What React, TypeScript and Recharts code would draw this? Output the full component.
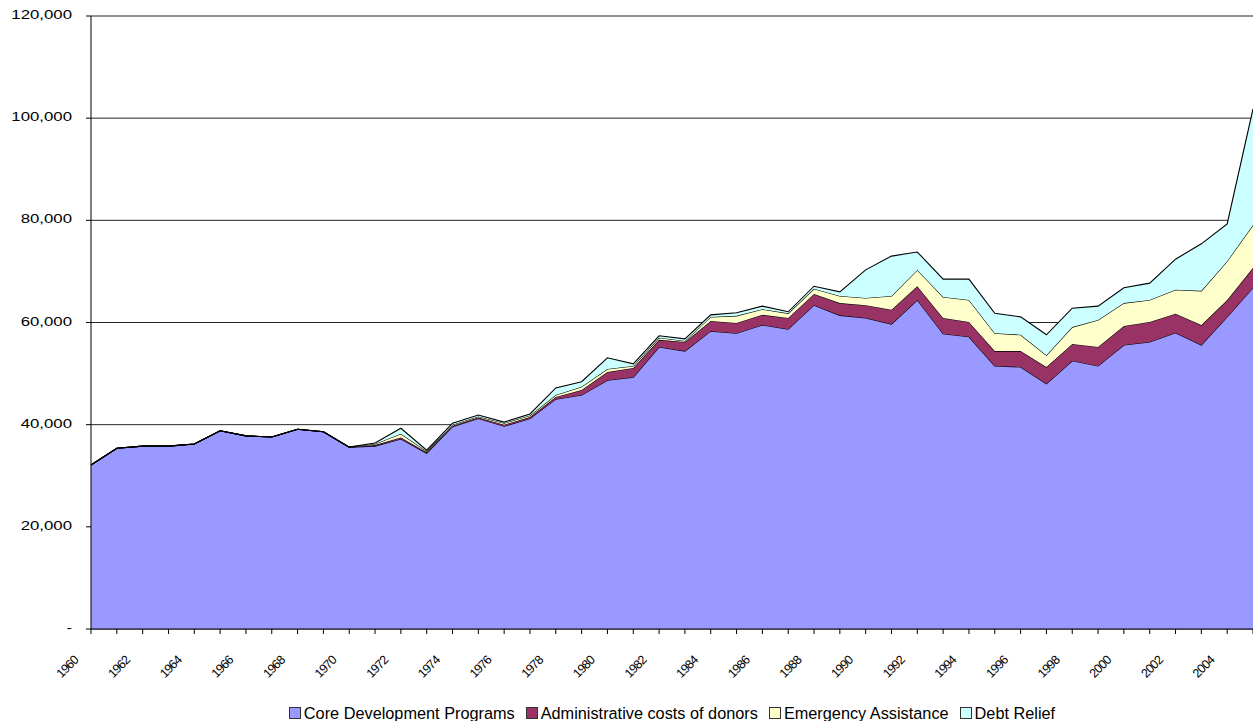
import { AreaChart, Area, XAxis, YAxis, CartesianGrid, Legend } from 'recharts';

const years = [
  1960, 1961, 1962, 1963, 1964, 1965, 1966, 1967, 1968, 1969,
  1970, 1971, 1972, 1973, 1974, 1975, 1976, 1977, 1978, 1979,
  1980, 1981, 1982, 1983, 1984, 1985, 1986, 1987, 1988, 1989,
  1990, 1991, 1992, 1993, 1994, 1995, 1996, 1997, 1998, 1999,
  2000, 2001, 2002, 2003, 2004, 2005,
];

const coreDevelopment = [
  32100, 35400, 35800, 35800, 36200, 38800, 37800, 37600, 39100, 38600,
  35600, 35800, 37200, 34400, 39600, 41200, 39700, 41200, 45000, 45800,
  48700, 49300, 55200, 54400, 58300, 57900, 59500, 58700, 63400, 61400,
  60900, 59700, 64400, 57800, 57200, 51500, 51300, 48000, 52500, 51500,
  55600, 56200, 58000, 55600, 61100, 66800,
];

const adminCosts = [
  0, 0, 0, 0, 0, 0, 0, 0, 0, 0,
  0, 200, 300, 200, 200, 200, 300, 300, 400, 1000,
  1600, 1800, 1400, 1800, 2000, 2000, 2000, 2200, 2200, 2400,
  2500, 2800, 2700, 3100, 2900, 2900, 3100, 3300, 3300, 3700,
  3700, 3900, 3700, 3900, 3300, 3900,
];

const emergency = [
  0, 0, 0, 0, 0, 0, 0, 0, 0, 0,
  0, 200, 700, 200, 200, 200, 300, 300, 400, 600,
  600, 400, 400, 200, 800, 1400, 1100, 900, 1000, 1400,
  1400, 2700, 3200, 4100, 4300, 3500, 3200, 2300, 3300, 5300,
  4500, 4300, 4700, 6700, 7600, 8400,
];

const debtRelief = [
  0, 0, 0, 0, 0, 0, 0, 0, 0, 0,
  0, 200, 1100, 200, 300, 300, 200, 300, 1400, 1000,
  2200, 400, 400, 400, 400, 600, 600, 300, 500, 800,
  5500, 7800, 3500, 3500, 4100, 3900, 3500, 4000, 3700, 2700,
  3000, 3300, 6000, 9200, 7300, 22700,
];

const yTicks = [0, 20000, 40000, 60000, 80000, 100000, 120000];

const series = [
  { key: 'core', name: 'Core Development Programs', color: '#9999FF' },
  { key: 'admin', name: 'Administrative costs of donors', color: '#993366' },
  { key: 'emergency', name: 'Emergency Assistance', color: '#FFFFCC' },
  { key: 'debt', name: 'Debt Relief', color: '#CCFFFF' },
];

const data = years.map((year, i) => ({
  year,
  core: coreDevelopment[i],
  admin: adminCosts[i],
  emergency: emergency[i],
  debt: debtRelief[i],
}));

const font = '"Liberation Sans", Arial, sans-serif';

// tick mark for every year, label for even years only
function YearTick({ x, y, payload }: any) {
  const year = payload.value;
  return (
    <g>
      <line x1={x} y1={y} x2={x} y2={y + 5} stroke="#000" />
      {year % 2 === 0 && (
        <text
          x={x - 12}
          y={y + 32}
          transform={`rotate(-45, ${x - 12}, ${y + 32})`}
          textAnchor="end"
          fontSize={12.5}
          letterSpacing={-0.8}
          fontFamily={font}
          fill="#000"
        >
          {year}
        </text>
      )}
    </g>
  );
}

function ValueTick({ x, y, payload }: any) {
  const v = payload.value;
  const label = v === 0 ? '-' : v.toLocaleString('en-US');
  return (
    <text
      x={0}
      y={0}
      transform={`translate(${x}, ${y + 3}) scale(1.4, 1)`}
      textAnchor="end"
      fontSize={12}
      fontFamily={font}
      fill="#000"
    >
      {label}
    </text>
  );
}

function LegendBox() {
  return (
    <div
      style={{
        height: 28,
        display: 'flex',
        justifyContent: 'center',
        alignItems: 'flex-end',
        fontFamily: font,
        fontSize: 16.3,
        lineHeight: '16px',
        color: '#000',
      }}
    >
      {series.map((s, i) => (
        <span
          key={s.key}
          style={{ display: 'flex', alignItems: 'center', marginRight: i < series.length - 1 ? 11 : 0 }}
        >
          <span
            style={{
              width: 10,
              height: 10,
              background: s.color,
              border: '1px solid #333',
              marginRight: 3,
              display: 'inline-block',
            }}
          />
          {s.name}
        </span>
      ))}
    </div>
  );
}

export default function App() {
  return (
    <div style={{ position: 'absolute', left: 0, top: 0, background: '#fff' }}>
      <AreaChart width={1253} height={721} data={data} margin={{ top: 16, right: 0, left: 0, bottom: 0 }}>
        <CartesianGrid horizontal vertical={false} stroke="#000" strokeOpacity={0.85} />
        <XAxis
          dataKey="year"
          interval={0}
          tickLine={false}
          tickSize={0}
          tickMargin={0}
          tick={<YearTick />}
          axisLine={{ stroke: '#000' }}
          height={64}
        />
        <YAxis
          domain={[0, 120000]}
          ticks={yTicks}
          width={91}
          tickSize={5}
          tickMargin={14}
          tickLine={{ stroke: '#000' }}
          axisLine={{ stroke: '#000' }}
          tick={<ValueTick />}
        />
        <Legend verticalAlign="bottom" content={<LegendBox />} wrapperStyle={{ left: 91, width: 1162 }} />
        {series.map((s) => (
          <Area
            key={s.key}
            type="linear"
            dataKey={s.key}
            name={s.name}
            stackId="1"
            stroke="#000"
            strokeWidth={1.1}
            fill={s.color}
            fillOpacity={1}
            isAnimationActive={false}
          />
        ))}
      </AreaChart>
    </div>
  );
}
